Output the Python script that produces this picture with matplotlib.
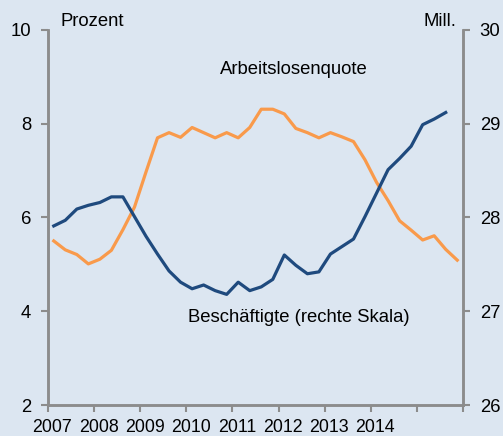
import numpy as np
import matplotlib.pyplot as plt
import matplotlib.transforms as mtransforms

plt.rcParams['font.family'] = ['Liberation Sans', 'DejaVu Sans']

# quarterly data, 2007 Q1 onwards
arbeitslosenquote = [5.50, 5.31, 5.21, 5.01, 5.11, 5.30, 5.74, 6.22, 6.97, 7.70,
                     7.81, 7.71, 7.92, 7.81, 7.70, 7.81, 7.70, 7.92, 8.31, 8.31,
                     8.21, 7.90, 7.81, 7.70, 7.81, 7.72, 7.62, 7.23, 6.75, 6.36,
                     5.93, 5.73, 5.52, 5.61, 5.32, 5.09]
beschaeftigte = [27.91, 27.97, 28.09, 28.13, 28.16, 28.22, 28.22, 28.01, 27.80, 27.61,
                 27.43, 27.31, 27.24, 27.28, 27.22, 27.18, 27.31, 27.22, 27.26, 27.34,
                 27.60, 27.49, 27.40, 27.42, 27.61, 27.69, 27.77, 28.01, 28.26, 28.51,
                 28.63, 28.76, 28.99, 29.05, 29.12]
year_labels = ['2007', '2008', '2009', '2010', '2011', '2012', '2013', '2014']

t_q = 2007 + (np.arange(len(arbeitslosenquote)) + 0.5) * 0.25
t_b = t_q[:len(beschaeftigte)]

bg = '#dce6f1'
orange = '#f99a4b'
blue = '#1f4a7e'
grey = '#8c8c8c'
fs = 13.3

fig = plt.figure(figsize=(5.03, 4.36), dpi=100, facecolor=bg)
ax = fig.add_axes([0.0954, 0.0711, 0.8251, 0.8601], facecolor=bg)
ax2 = ax.twinx()

ax.plot(t_q, arbeitslosenquote, color=orange, lw=2.3, zorder=3)
ax2.plot(t_b, beschaeftigte, color=blue, lw=2.3, zorder=3)

ax.set_xlim(2007, 2016)
ax.set_ylim(2, 10)
ax2.set_ylim(26, 30)
ax.set_yticks([2, 4, 6, 8, 10])
ax2.set_yticks([26, 27, 28, 29, 30])
ax.set_xticks(np.arange(2007, 2017))
ax.set_xticklabels(year_labels + ['', ''])

for a in (ax, ax2):
    a.spines['top'].set_visible(False)
    for s in ('left', 'right', 'bottom'):
        a.spines[s].set_color(grey)
        a.spines[s].set_linewidth(1.8)
    a.tick_params(colors=grey, labelcolor='black', labelsize=fs,
                  length=5, width=1.5, pad=7)
ax.tick_params(axis='x', pad=5, labelsize=12.8)

# year labels sit slightly right of their ticks
shift = mtransforms.ScaledTranslation(4.5 / 100, 0, fig.dpi_scale_trans)
for lbl in ax.get_xticklabels():
    lbl.set_transform(lbl.get_transform() + shift)

fig.text(60 / 503, 1 - 22 / 436, 'Prozent', fontsize=fs, va='center', ha='left')
fig.text(456 / 503, 1 - 22 / 436, 'Mill.', fontsize=fs, va='center', ha='right')
ax.text(2012.34, 9.15, 'Arbeitslosenquote', fontsize=fs, ha='center', va='center')
ax.text(2012.43, 3.86, 'Beschäftigte (rechte Skala)', fontsize=fs,
        ha='center', va='center')

fig.savefig('out.png', dpi=100, facecolor=bg)
